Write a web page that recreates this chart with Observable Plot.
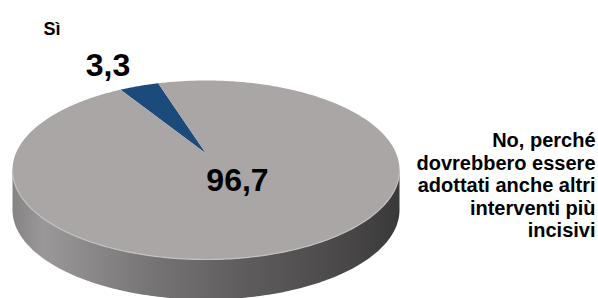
<!DOCTYPE html>
<html><head><meta charset="utf-8">
<script src="https://cdn.jsdelivr.net/npm/d3@7"></script>
<script src="https://cdn.jsdelivr.net/npm/@observablehq/plot@0.6"></script>
<style>body{margin:0;background:#fff}</style>
</head><body><div id="chart"></div>
<script>
// ---- data ----
const categories = ["Sì", "No, perché\ndovrebbero essere\nadottati anche altri\ninterventi più\nincisivi"];
const values = [3.3, 96.7];
const valueLabels = ["3,3", "96,7"];
const colors = ["#1c4a7a", "#aaa6a6"];

// ---- layout ----
const W = 598, H = 298;
const cx = 205.5, cy = 169.5, rx = 193.5, ry = 89.5, depth = 40, apexY = 153;
const rotation = -26.2 * Math.PI / 180;
const font = "'Liberation Sans', Arial, sans-serif";
const labelRight = 595, labelSize = 20;

const arcs = d3.pie().sort(null).startAngle(rotation).endAngle(rotation + 2 * Math.PI)(values);
const ell = t => [cx + rx * Math.sin(t), cy - ry * Math.cos(t)];

const slicePts = [];
arcs.forEach((a, i) => {
  const n = Math.max(8, Math.ceil((a.endAngle - a.startAngle) / 0.01));
  slicePts.push({k: i, x: cx, y: apexY, fill: colors[i]});
  for (let j = 0; j <= n; j++) {
    const [x, y] = ell(a.startAngle + (a.endAngle - a.startAngle) * j / n);
    slicePts.push({k: i, x, y, fill: colors[i]});
  }
});

// front side of the cylinder (right -> bottom -> left)
const front = d3.range(0, 201).map(j => ell(Math.PI / 2 + Math.PI * j / 200));
const sidePts = [
  ...front.map(([x, y]) => ({x, y})),
  ...front.slice().reverse().map(([x, y]) => ({x, y: y + depth}))
];
const rimPts = front.map(([x, y]) => ({x, y}));

// right-hand label lines, right-aligned by measuring each line
const ctx = document.createElement("canvas").getContext("2d");
ctx.font = `bold ${labelSize}px ${font}`;
const noLines = categories[1].split("\n").map((t, i) => ({
  t, y: 132.5 + i * 22.5, x: labelRight - ctx.measureText(t).width
}));

const chart = Plot.plot({
  width: W, height: H, margin: 0,
  x: {domain: [0, W], range: [0, W], axis: null},
  y: {domain: [0, H], range: [0, H], axis: null},
  color: {type: "identity"},
  style: {background: "#fff"},
  marks: [
    Plot.line(sidePts, {x: "x", y: "y", fill: "url(#sideGrad)", stroke: null}),
    Plot.line(slicePts, {x: "x", y: "y", z: "k", fill: "fill", stroke: null}),
    Plot.line(rimPts, {x: "x", y: "y", stroke: "#c4c1c1", strokeWidth: 1.2}),
    Plot.text([categories[0]], {x: 43, y: 22, text: d => d, textAnchor: "start", lineAnchor: "top",
      fontSize: 18, fontWeight: "bold", fontFamily: font, fill: "#000"}),
    Plot.text([valueLabels[0]], {x: 107.5, y: 53, text: d => d, textAnchor: "middle", lineAnchor: "top",
      fontSize: 32, fontWeight: "bold", fontFamily: font, fill: "#000"}),
    Plot.text([valueLabels[1]], {x: 237, y: 168, text: d => d, textAnchor: "middle", lineAnchor: "top",
      fontSize: 32, fontWeight: "bold", fontFamily: font, fill: "#000"}),
    Plot.text(noLines, {x: "x", y: "y", text: "t", textAnchor: "start", lineAnchor: "top",
      fontSize: labelSize, fontWeight: "bold", fontFamily: font, fill: "#000"})
  ]
});

const svg = d3.select(chart);
const defs = svg.insert("defs", ":first-child");
const g = defs.append("linearGradient").attr("id", "sideGrad").attr("x1", "0").attr("x2", "1").attr("y1", "0").attr("y2", "0");
[[0, "#858383"], [0.08, "#9a9898"], [0.35, "#777575"], [0.6, "#5e5c5c"], [0.85, "#4a4848"], [1, "#3a3939"]]
  .forEach(([o, c]) => g.append("stop").attr("offset", o).attr("stop-color", c));

document.getElementById("chart").appendChild(chart);
</script>
</body></html>
